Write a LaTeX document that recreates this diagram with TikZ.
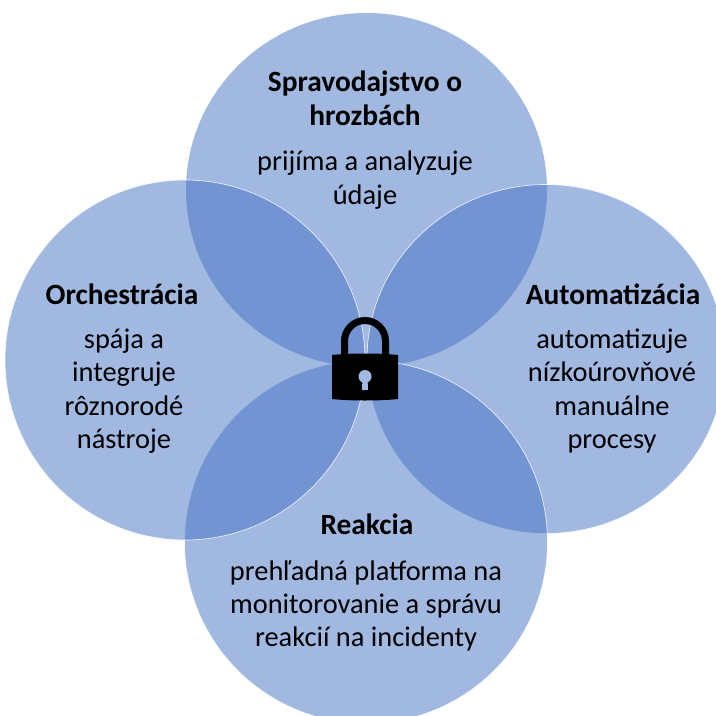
\documentclass[tikz,border=0pt]{standalone}
\usepackage{fontspec}
\setmainfont{Carlito}
\definecolor{petal}{HTML}{4472C4}
\definecolor{holebg}{HTML}{A2B9E1}
\tikzset{
  x=1bp,y=-1bp,
  petalc/.style={fill=petal,fill opacity=.5,draw=white,draw opacity=.8,line width=.7bp},
  lbl/.style={align=center,text=black,font=\fontsize{28.5}{33.5}\selectfont,inner sep=0pt},
  ttl/.style={lbl,font=\fontsize{29.5}{34}\selectfont\bfseries},
}
\begin{document}
\begin{tikzpicture}
\useasboundingbox (0,0) rectangle (716,716);
\fill[white] (0,0) rectangle (716,716);
\begin{scope}
\clip (0,0) rectangle (716,716);
\fill[petal,fill opacity=.5] (366.5,190) ellipse[x radius=180.5bp,y radius=177bp];
\draw[petalc] (546,359) ellipse[x radius=179bp,y radius=174.5bp];
\draw[petalc] (366,542) circle[radius=181.5bp];
\draw[petalc] (185,360) circle[radius=180bp];
\end{scope}
% padlock
\fill[black]
  (341,356) -- (341,341) arc[start angle=180,end angle=0,x radius=24bp,y radius=24bp] -- (389,356) -- (382,356)
  -- (382,341) arc[start angle=0,end angle=180,x radius=17bp,y radius=17bp] -- (348,356) -- cycle;
\fill[black] (332,355) .. controls (350,353) and (380,353) .. (398,355) -- (398,399) .. controls (380,401) and (350,401) .. (332,399) -- cycle;
\fill[holebg] (365,376.5) circle[radius=6.5bp];
\fill[holebg] (362.5,378) -- (367.5,378) -- (368,390) -- (362,390) -- cycle;
% texts
\node[ttl] (t1) at (365,98) {Spravodajstvo o\\hrozbách};
\node[lbl] (d1) at (365,180) {prijíma a analyzuje\\údaje};
\node[ttl] (t2) at (122,294) {Orchestrácia};
\node[lbl] (d2) at (124,391) {spája a\\integruje\\rôznorodé\\nástroje};
\node[ttl] (t3) at (613,294) {Automatizácia};
\node[lbl] (d3) at (612,391) {automatizuje\\nízkoúrovňové\\manuálne\\procesy};
\node[ttl] (t4) at (367,524) {Reakcia};
\node[lbl] (d4) at (366,606) {prehľadná platforma na\\monitorovanie a správu\\reakcií na incidenty};
\end{tikzpicture}
\end{document}
